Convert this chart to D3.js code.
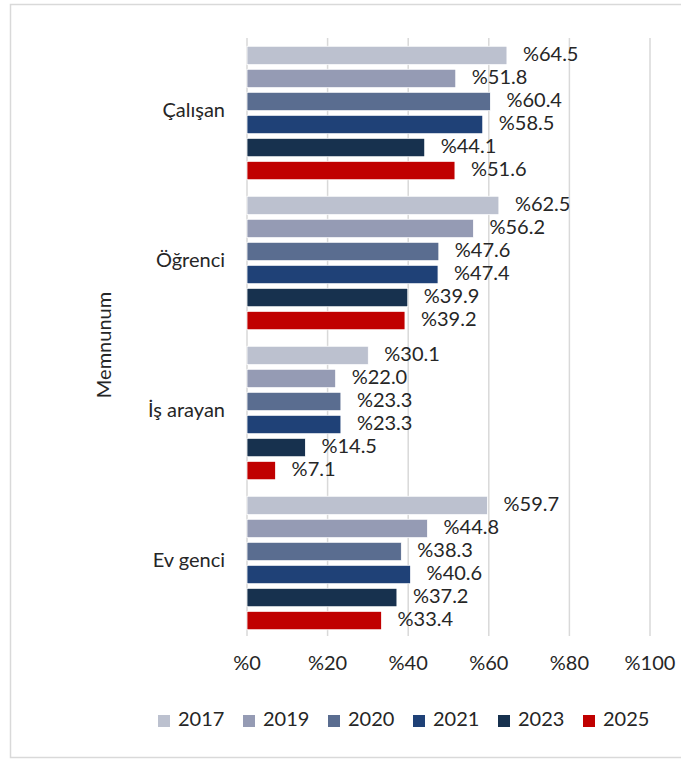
<!DOCTYPE html>
<html>

<head>
    <meta charset="utf-8">
    <style>
        body {
            margin: 0;
            background: white;
        }

        svg {
            font-family: Lato, "Open Sans", sans-serif;
        }
    </style>
</head>

<body>
    <svg width="681" height="760"></svg>

    <script src="https://cdn.jsdelivr.net/npm/d3@7"></script>
    <script>
        // data
        let categories = ["Çalışan", "Öğrenci", "İş arayan", "Ev genci"];
        let years = ["2017", "2019", "2020", "2021", "2023", "2025"];
        let v2017 = [64.5, 62.5, 30.1, 59.7];
        let v2019 = [51.8, 56.2, 22.0, 44.8];
        let v2020 = [60.4, 47.6, 23.3, 38.3];
        let v2021 = [58.5, 47.4, 23.3, 40.6];
        let v2023 = [44.1, 39.9, 14.5, 37.2];
        let v2025 = [51.6, 39.2, 7.1, 33.4];
        let xTicks = [0, 20, 40, 60, 80, 100];
        let yTitle = "Memnunum";

        let seriesValues = [v2017, v2019, v2020, v2021, v2023, v2025];
        let colors = ["#bcc1cf", "#959bb4", "#5a6d90", "#1f4177", "#17314e", "#c00000"];

        let fontSize = 20;
        let svg = d3.select("svg");

        // outer chart frame
        svg.append("rect")
            .attr("x", 10.5)
            .attr("y", 4.5)
            .attr("width", 690)
            .attr("height", 753)
            .attr("fill", "none")
            .attr("stroke", "#d9d9d9")
            .attr("stroke-width", 1.5);

        let plotLeft = 247, plotRight = 650, plotTop = 38, plotBottom = 638;

        let x = d3.scaleLinear().domain([0, 100]).range([plotLeft, plotRight]);
        let y = d3.scaleBand().domain(categories).range([plotTop, plotBottom])
            .paddingInner(0.11).paddingOuter(0.055);
        let yInner = d3.scaleBand().domain(years).range([0, y.bandwidth()])
            .paddingInner(0.2).paddingOuter(0);
        let color = d3.scaleOrdinal().domain(years).range(colors);

        // gridlines
        svg.append("g")
            .selectAll("line")
            .data(xTicks)
            .join("line")
            .attr("x1", d => x(d))
            .attr("x2", d => x(d))
            .attr("y1", plotTop)
            .attr("y2", plotBottom - 2)
            .attr("stroke", "#d9d9d9")
            .attr("stroke-width", 1.5);

        // x tick labels
        svg.append("g")
            .selectAll("text")
            .data(xTicks)
            .join("text")
            .attr("x", d => x(d))
            .attr("y", 665)
            .attr("text-anchor", "middle")
            .attr("dominant-baseline", "middle")
            .attr("font-size", fontSize)
            .attr("fill", "#262626")
            .text(d => "%" + d);

        // bars
        let rows = [];
        categories.forEach((c, i) => {
            years.forEach((yr, j) => {
                rows.push({ cat: c, year: yr, value: seriesValues[j][i] });
            });
        });

        let groups = svg.append("g").selectAll("g")
            .data(categories)
            .join("g")
            .attr("transform", d => `translate(0,${y(d)})`);

        groups.selectAll("rect")
            .data(c => rows.filter(r => r.cat == c))
            .join("rect")
            .attr("x", x(0))
            .attr("y", d => yInner(d.year))
            .attr("width", d => x(d.value) - x(0))
            .attr("height", yInner.bandwidth())
            .attr("fill", d => color(d.year))
            .attr("stroke", "white")
            .attr("stroke-width", 0.8);

        groups.selectAll("text")
            .data(c => rows.filter(r => r.cat == c))
            .join("text")
            .attr("x", d => x(d.value) + 16)
            .attr("y", d => yInner(d.year) + yInner.bandwidth() / 2)
            .attr("dominant-baseline", "middle")
            .attr("font-size", fontSize)
            .attr("fill", "#262626")
            .text(d => "%" + d.value.toFixed(1));

        // category labels
        svg.append("g")
            .selectAll("text")
            .data(categories)
            .join("text")
            .attr("x", 225)
            .attr("y", d => y(d) + y.bandwidth() / 2 - 1)
            .attr("text-anchor", "end")
            .attr("dominant-baseline", "middle")
            .attr("font-size", fontSize)
            .attr("fill", "#262626")
            .text(d => d);

        // axis title
        svg.append("text")
            .attr("transform", `translate(106,${(plotTop + plotBottom) / 2 + 7}) rotate(-90)`)
            .attr("text-anchor", "middle")
            .attr("dominant-baseline", "middle")
            .attr("font-size", fontSize)
            .attr("fill", "#262626")
            .text(yTitle);

        // legend
        let legend = svg.append("g").selectAll("g")
            .data(years)
            .join("g")
            .attr("transform", (d, i) => `translate(${158 + i * 85},720)`);

        legend.append("rect")
            .attr("x", 0)
            .attr("y", -5)
            .attr("width", 12)
            .attr("height", 12)
            .attr("fill", d => color(d));

        legend.append("text")
            .attr("x", 20)
            .attr("y", 1)
            .attr("dominant-baseline", "middle")
            .attr("font-size", fontSize)
            .attr("fill", "#262626")
            .text(d => d);
    </script>
</body>

</html>
